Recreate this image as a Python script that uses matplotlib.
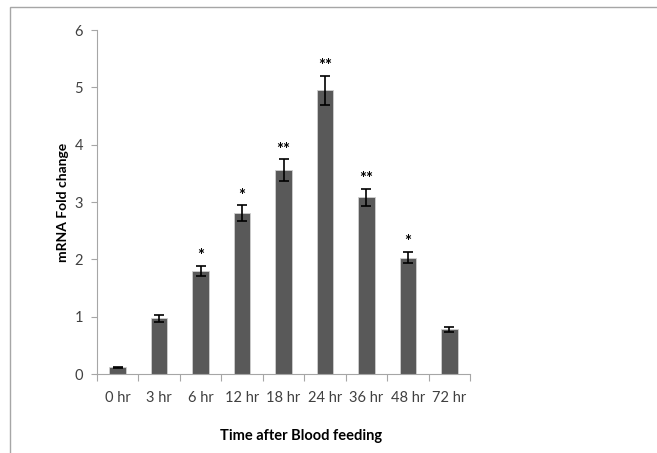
import matplotlib

matplotlib.use("Agg")
import matplotlib.pyplot as plt
from matplotlib.patches import Rectangle

# ---- data ----
times = ["0 hr", "3 hr", "6 hr", "12 hr", "18 hr", "24 hr", "36 hr", "48 hr", "72 hr"]
fold = [0.12, 0.97, 1.80, 2.80, 3.56, 4.95, 3.08, 2.03, 0.78]
err = [0.01, 0.06, 0.09, 0.14, 0.19, 0.25, 0.15, 0.10, 0.04]
sig = ["", "", "*", "*", "**", "**", "**", "*", ""]

plt.rcParams["font.family"] = ["Lato", "DejaVu Sans"]

fig = plt.figure(figsize=(6.57, 4.53), dpi=100)
# outer chart frame (Excel-style border, runs off right/bottom edge)
fig.patches.append(Rectangle((10 / 657, -0.1), 1.2, (453 - 7) / 453 + 0.1,
                             transform=fig.transFigure, fill=False,
                             edgecolor="#a6a6a6", lw=1.0))

ax = fig.add_axes([97 / 657, 79 / 453, 373 / 657, 344 / 453])
x = range(len(times))
ax.bar(x, fold, width=0.4, color="#595959", edgecolor="#d0d0d0", lw=0.6,
       yerr=err, error_kw=dict(ecolor="black", elinewidth=1.2, capsize=3.5, capthick=1.2))

for i, (v, e, s) in enumerate(zip(fold, err, sig)):
    if s:
        ax.annotate(s, (i, v + e), xytext=(0, 1), textcoords="offset points",
                    ha="center", va="bottom", fontsize=12, fontweight="bold")

ax.set_xlim(-0.5, len(times) - 0.5)
ax.set_ylim(0, 6)
ax.set_yticks(range(0, 7))
ax.set_xticks([i + 0.5 for i in range(-1, len(times))], minor=False)
ax.set_xticklabels([])
ax.set_xticks(list(x), minor=True)
ax.set_xticklabels(times, minor=True)
ax.tick_params(axis="x", which="major", length=5, color="#a6a6a6", direction="out")
ax.tick_params(axis="x", which="minor", length=0, pad=12, labelsize=10.5, labelcolor="#404040")
ax.tick_params(axis="y", length=4, color="#a6a6a6", labelsize=10.5, labelcolor="#404040", pad=6)
for side in ["top", "right"]:
    ax.spines[side].set_visible(False)
for side in ["left", "bottom"]:
    ax.spines[side].set_color("#a6a6a6")

fig.text(63 / 657, 1 - 202 / 453, "mRNA Fold change", rotation=90, ha="center", va="center",
         fontsize=10, fontweight="bold")
fig.text(301 / 657, 1 - 436 / 453, "Time after Blood feeding", ha="center", va="center",
         fontsize=10.5, fontweight="bold")

fig.savefig("out.png", dpi=100)
